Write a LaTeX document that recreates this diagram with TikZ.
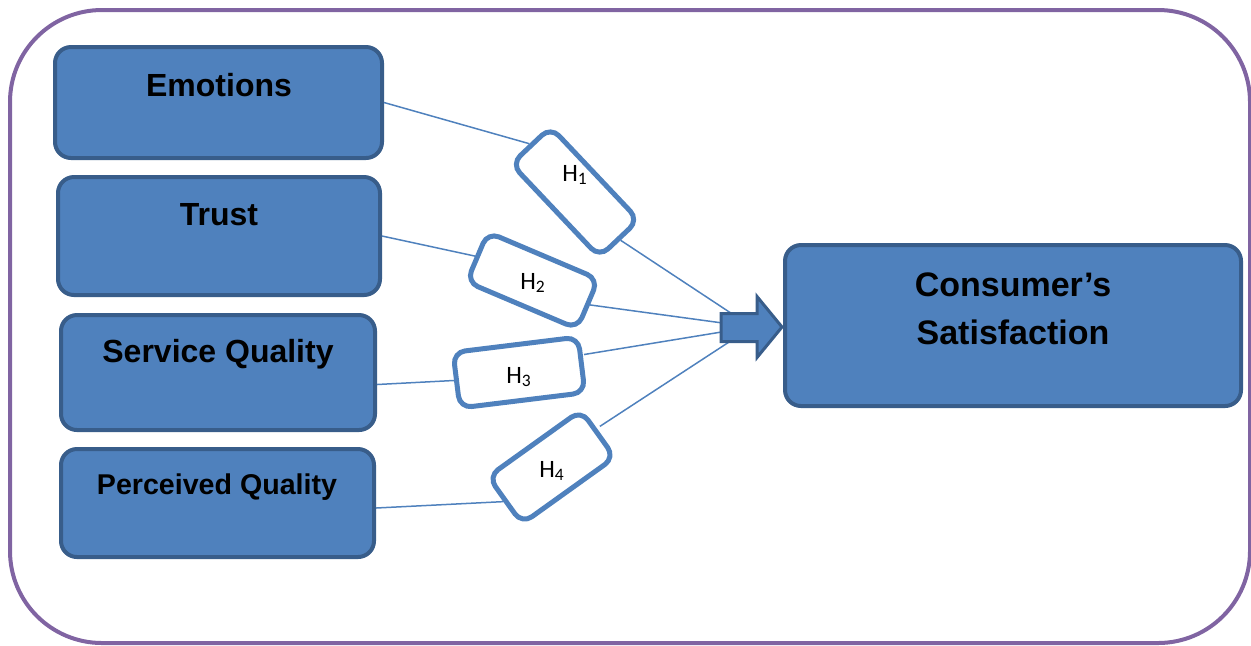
\documentclass[tikz,border=0pt]{standalone}
\usepackage{fontspec}
\setmainfont{Liberation Sans}
\newfontfamily\calfont{Carlito}
\usetikzlibrary{positioning}

\definecolor{boxblue}{HTML}{4F81BD}
\definecolor{boxedge}{HTML}{385D8A}
\definecolor{framepurple}{HTML}{8064A2}

\begin{document}
\begin{tikzpicture}[
  x=0.5pt, y=-0.5pt, % one unit = one pixel, y runs downwards
  factor/.style={draw=boxedge, fill=boxblue, line width=2pt, rounded corners=8pt},
  factortext/.style={font=\bfseries\fontsize{16}{19}\selectfont, anchor=base, inner sep=0pt},
  hypbox/.style={draw=boxblue, fill=white, line width=2.5pt, rounded corners=6pt},
  hyptext/.style={font=\calfont\fontsize{12.5}{14}\selectfont, anchor=base, inner sep=0pt},
  link/.style={boxblue, line width=0.75pt}
]
  \useasboundingbox (0,0) rectangle (1251,645);

  % outer frame
  \draw[framepurple, line width=2pt, rounded corners=46pt] (10,10) rectangle (1250,643);

  % the four factors
  \node[factor, minimum width=163.5pt, minimum height=55.5pt] (emo)   at (218.5,102.5) {};
  \node[factor, minimum width=161pt,   minimum height=59pt]   (trust) at (219,236) {};
  \node[factor, minimum width=157pt,   minimum height=57.5pt] (serv)  at (218,372.5) {};
  \node[factor, minimum width=156.5pt, minimum height=54pt]   (perc)  at (217.5,503) {};
  % outcome
  \node[factor, minimum width=228pt,   minimum height=80.5pt] (cons)  at (1013,325.5) {};

  \node[factortext] (emotxt)   at (219,96)  {Emotions};
  \node[factortext] (trusttxt) at (219,225) {Trust};
  \node[factortext] (servtxt)  at (218,362) {Service Quality};
  \node[factortext, font=\bfseries\fontsize{14.3}{17}\selectfont] (perctxt) at (217,494) {Perceived Quality};
  \node[factortext, anchor=center, align=center, font=\bfseries\fontsize{17}{24}\selectfont]
    (constxt) at (1013,309) {Consumer’s\\Satisfaction};

  % hypotheses, tilted boxes
  \node[hypbox, rotate=-46.6, minimum width=64pt, minimum height=27pt] (h1) at (575,192) {};
  \node[hypbox, rotate=-23,   minimum width=60pt, minimum height=27pt] (h2) at (532.5,280.5) {};
  \node[hypbox, rotate=7,     minimum width=63pt, minimum height=28pt] (h3) at (519,372.5) {};
  \node[hypbox, rotate=35.6,  minimum width=57pt, minimum height=29pt] (h4) at (551.5,467) {};

  \node[hyptext] (h1txt) at (575,181) {H\textsubscript{1}};
  \node[hyptext] (h2txt) at (533,289) {H\textsubscript{2}};
  \node[hyptext] (h3txt) at (519,383) {H\textsubscript{3}};
  \node[hyptext] (h4txt) at (552,477) {H\textsubscript{4}};

  % paths into the arrow
  \coordinate (hub) at (752,327);
  \draw[link] (emo.east) -- (h1.west);
  \draw[link] (h1.east) -- (hub);
  \draw[link] (trust.east) -- (h2.west);
  \draw[link] (h2.east) -- (hub);
  \draw[link] ([yshift=-6pt]serv.east) -- (h3.west);
  \draw[link] ([yshift=5pt]h3.east) -- (hub);
  \draw[link] ([yshift=-2.5pt]perc.east) -- (h4.west);
  \draw[link] ([yshift=3pt]h4.east) -- (hub);

  % block arrow
  \draw[fill=boxblue, draw=boxedge, line width=1.5pt]
    (721,313.5) -- (757,313.5) -- (757,296.5) -- (782,327)
    -- (757,357.5) -- (757,341.5) -- (721,341.5) -- cycle;
\end{tikzpicture}
\end{document}
